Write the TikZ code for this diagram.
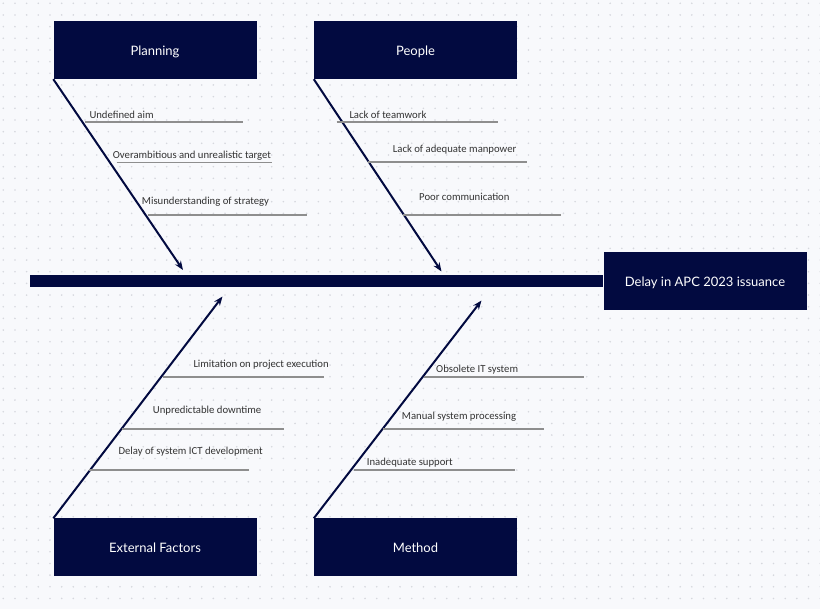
\documentclass[tikz,border=0pt]{standalone}
\usepackage{fontspec}
\setmainfont{Lato}
\newfontfamily\labelfont{Carlito}
\usetikzlibrary{arrows.meta}
\definecolor{navy}{HTML}{020A40}
\definecolor{bgc}{HTML}{F8F9FC}
\definecolor{dotc}{HTML}{D6D8DE}
\definecolor{twig}{HTML}{8E8E8E}
\definecolor{labc}{HTML}{333333}
\begin{document}
\begin{tikzpicture}[x=1pt,y=-1pt,
 catbox/.style={fill=navy, draw=none, minimum width=203pt, minimum height=58pt, text=white, font=\fontsize{13}{15}\selectfont, inner sep=0, text height=13.5pt, text depth=3pt},
 bone/.style={draw=navy, line width=2pt, -{Stealth[length=9pt,width=7pt]}},
 twigline/.style={draw=twig, line width=1.6pt},
 cause/.style={anchor=west, inner sep=0, font=\labelfont\fontsize{10.7}{12}\selectfont, text=labc}]
\fill[bgc] (0,0) rectangle (820,609);
\useasboundingbox (0,0) rectangle (820,609);
\foreach \i in {0,...,70} {\foreach \j in {0,...,52} {\fill[dotc] (3.3+11.67*\i, 3.3+11.67*\j) circle (0.9pt);}}
% boxes
\node[catbox] (plan) at (155,50) {Planning};
\node[catbox] (people) at (415.5,50) {People};
\node[catbox] (ext) at (155,547.5) {External Factors};
\node[catbox] (meth) at (415.5,547.5) {Method};
\node[catbox] (effect) at (705,281.5) {Delay in APC 2023 issuance};
\node[fill=navy, minimum width=573pt, minimum height=12pt, inner sep=0] (spine) at (316.5,281) {};
% bones
\coordinate (planhead) at (183,270);
\coordinate (peoplehead) at (441.5,271.5);
\coordinate (exthead) at (222.5,296.5);
\coordinate (methhead) at (481.5,300.5);
\draw[bone] (plan.south west) -- (planhead);
\draw[bone] (people.south west) -- (peoplehead);
\draw[bone] (ext.north west) -- (exthead);
\draw[bone] (meth.north west) -- (methhead);
% Planning causes
\draw[twigline] (85,122.3) -- (242.7,122.3);
\node[cause] (p1) at (89.3,115) {Undefined aim};
\draw[twigline] (116.7,162.7) -- (271.7,162.7);
\node[cause] (p2) at (112.7,156) {Overambitious and unrealistic target};
\draw[twigline] (148,215) -- (306.7,215);
\node[cause] (p3) at (141.7,202) {Misunderstanding of strategy};
% People causes
\draw[twigline] (336.7,122.3) -- (497.7,122.3);
\node[cause] (q1) at (349.3,115) {Lack of teamwork};
\draw[twigline] (368,162.3) -- (526.7,162.3);
\node[cause] (q2) at (392.7,150) {Lack of adequate manpower};
\draw[twigline] (403,215) -- (560.7,215);
\node[cause] (q3) at (419,196.7) {Poor communication};
% External causes
\draw[twigline] (163.3,377.3) -- (324,377.3);
\node[cause] (e1) at (193.3,364.3) {Limitation on project execution};
\draw[twigline] (121.7,429) -- (284,429);
\node[cause] (e2) at (152.7,410.7) {Unpredictable downtime};
\draw[twigline] (89.3,470) -- (249,470);
\node[cause] (e3) at (118.3,451.7) {Delay of system ICT development};
% Method causes
\draw[twigline] (424,377.3) -- (584.3,377.3);
\node[cause] (m1) at (436,370) {Obsolete IT system};
\draw[twigline] (383.3,429) -- (544,429);
\node[cause] (m2) at (401.7,416.7) {Manual system processing};
\draw[twigline] (354.3,470) -- (515,470);
\node[cause] (m3) at (366.7,462.7) {Inadequate support};
\end{tikzpicture}
\end{document}
